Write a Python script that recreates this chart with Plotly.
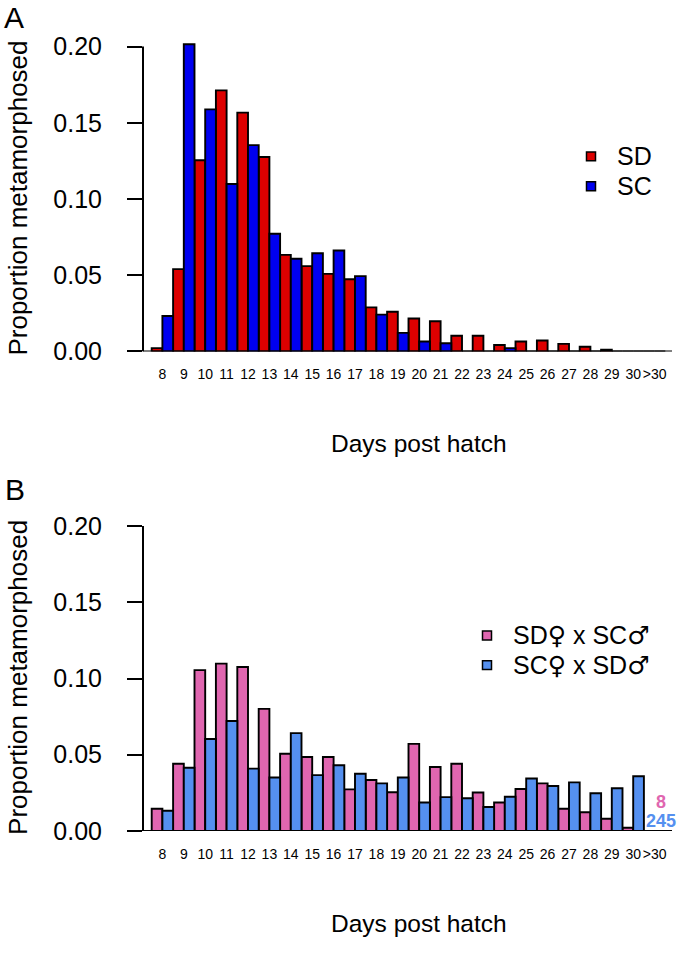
import plotly.graph_objects as go

W, H = 677, 956
FONT = "Liberation Sans, Arial, Helvetica, sans-serif"

days = ["8", "9", "10", "11", "12", "13", "14", "15", "16", "17", "18", "19",
        "20", "21", "22", "23", "24", "25", "26", "27", "28", "29", "30", ">30"]

# Panel A: SD and SC
sd = [0.0022, 0.0540, 0.1254, 0.1713, 0.1567, 0.1276, 0.0634, 0.0560, 0.0509, 0.0474,
      0.0289, 0.0261, 0.0216, 0.0198, 0.0103, 0.0103, 0.0042, 0.0065, 0.0072, 0.0050,
      0.0031, 0.0012, 0.0, 0.0]
sc = [0.0233, 0.2015, 0.1588, 0.1099, 0.1354, 0.0772, 0.0608, 0.0644, 0.0662, 0.0494,
      0.0242, 0.0122, 0.0065, 0.0054, 0.0, 0.0, 0.0022, 0.0, 0.0, 0.0,
      0.0, 0.0, 0.0, 0.0]

# Panel B: reciprocal crosses
sdf_scm = [0.0146, 0.0441, 0.1055, 0.1098, 0.1076, 0.0801, 0.0506, 0.0485, 0.0485, 0.0273,
           0.0334, 0.0254, 0.0571, 0.0420, 0.0441, 0.0252, 0.0187, 0.0275, 0.0312, 0.0146,
           0.0123, 0.0080, 0.0021, None]
scf_sdm = [0.0133, 0.0415, 0.0603, 0.0721, 0.0409, 0.0351, 0.0642, 0.0366, 0.0431, 0.0375,
           0.0312, 0.0351, 0.0187, 0.0222, 0.0215, 0.0157, 0.0224, 0.0344, 0.0295, 0.0319,
           0.0247, 0.0280, 0.0359, None]
over30_counts = ["8", "245"]

yticks = [0.0, 0.05, 0.10, 0.15, 0.20]
ytext = ["0.00", "0.05", "0.10", "0.15", "0.20"]

RED, BLUE = "#DD0000", "#0000F0"
PINK, LBLUE = "#E066B0", "#5590F0"

x_first = [2 * i + 0.5 for i in range(len(days))]
x_second = [2 * i + 1.5 for i in range(len(days))]
x_center = [2 * i + 1.0 for i in range(len(days))]

def px(x):
    return x / W

def py(y):
    return 1 - y / H

line = dict(color="black", width=1.9)
fig = go.Figure()
fig.add_trace(go.Bar(x=x_first, y=sd, width=1, marker=dict(color=RED, line=line),
                     xaxis="x", yaxis="y", name="SD", showlegend=False))
fig.add_trace(go.Bar(x=x_second, y=sc, width=1, marker=dict(color=BLUE, line=line),
                     xaxis="x", yaxis="y", name="SC", showlegend=False))
fig.add_trace(go.Bar(x=x_first, y=sdf_scm, width=1, marker=dict(color=PINK, line=line),
                     xaxis="x2", yaxis="y2", name="SD♀ x SC♂", showlegend=False))
fig.add_trace(go.Bar(x=x_second, y=scf_sdm, width=1, marker=dict(color=LBLUE, line=line),
                     xaxis="x2", yaxis="y2", name="SC♀ x SD♂", showlegend=False))

PLOT_L, PLOT_R = 143, 672
BAR0, BARW = 151.7, 10.7
xr = [(PLOT_L - BAR0) / BARW, (PLOT_R - BAR0) / BARW]
YMAX = 0.21
PXU = 309.4 / 0.2

def ydomain(base_px):
    top_px = base_px - YMAX * PXU
    return [py(base_px), py(top_px)]

A_BASE, B_BASE = 356.7, 843.3

xcommon = dict(range=xr, domain=[px(PLOT_L), px(PLOT_R)], tickmode="array",
               tickvals=x_center, ticktext=days, ticks="", showline=False,
               showgrid=False, zeroline=False, ticklabelstandoff=13, tickangle=0,
               tickfont=dict(size=14, color="black", family=FONT))
ycommon = dict(range=[0, YMAX], tickmode="array", tickvals=yticks, ticktext=ytext,
               ticks="outside", ticklen=15, tickwidth=2, tickcolor="black",
               showline=False, showgrid=False, zeroline=False, ticklabelstandoff=20,
               tickfont=dict(size=25, color="black", family=FONT))

fig.update_layout(
    width=W, height=H, margin=dict(l=0, r=0, t=0, b=0),
    paper_bgcolor="white", plot_bgcolor="white", barmode="overlay",
    font=dict(family=FONT, color="black"),
    xaxis=dict(**xcommon, anchor="y"),
    yaxis=dict(**ycommon, domain=ydomain(A_BASE), anchor="x"),
    xaxis2=dict(**xcommon, anchor="y2"),
    yaxis2=dict(**ycommon, domain=ydomain(B_BASE), anchor="x2"),
)

shapes = []
for xa, ya in (("x", "y"), ("x2", "y2")):
    shapes.append(dict(type="line", xref=xa + " domain", yref=ya, x0=0, x1=0, y0=0, y1=0.2,
                       line=dict(color="black", width=2), layer="above"))
    shapes.append(dict(type="line", xref=xa + " domain", yref=ya, x0=0, x1=1, y0=0, y1=0,
                       line=dict(color="black", width=2), layer="above"))

SYM = "<span style=\"font-family:'DejaVu Sans'\">%s</span>"
FEM, MAL = SYM % "♀", SYM % "♂"

legend_items = [
    (591, 158.7, RED, "SD"), (591, 189, BLUE, "SC"),
    (487, 645, PINK, "SD" + FEM + " x SC" + MAL), (487, 675, LBLUE, "SC" + FEM + " x SD" + MAL),
]
annotations = []
for cx, cy, col, label in legend_items:
    shapes.append(dict(type="rect", xref="paper", yref="paper",
                       x0=px(cx - 4.5), x1=px(cx + 4.5), y0=py(cy + 4.5), y1=py(cy - 4.5),
                       fillcolor=col, line=dict(color="black", width=1.5)))
    annotations.append(dict(x=px(cx + 24), y=py(cy), xref="paper", yref="paper",
                            text=label, showarrow=False, xanchor="left", yanchor="middle",
                            font=dict(size=25, color="black", family=FONT)))

annotations.append(dict(x=px(14), y=py(18), xref="paper", yref="paper", text="A",
                        showarrow=False, xanchor="center", yanchor="middle",
                        font=dict(size=30, color="black", family=FONT)))
annotations.append(dict(x=px(15), y=py(497), xref="paper", yref="paper", text="B",
                        showarrow=False, xanchor="center", yanchor="middle",
                        font=dict(size=30, color="black", family=FONT)))

for ycen in (201.5, 688):
    annotations.append(dict(x=px(18), y=py(ycen), xref="paper", yref="paper",
                            text="Proportion metamorphosed", textangle=-90,
                            showarrow=False, xanchor="center", yanchor="middle",
                            font=dict(size=26, color="black", family=FONT)))
for ycen in (450, 937):
    annotations.append(dict(x=px(419), y=py(ycen), xref="paper", yref="paper",
                            text="Days post hatch", showarrow=False,
                            xanchor="center", yanchor="middle",
                            font=dict(size=24.5, color="black", family=FONT)))

annotations.append(dict(x=px(661), y=py(814), xref="paper", yref="paper",
                        text="<b>%s</b>" % over30_counts[0], showarrow=False,
                        xanchor="center", yanchor="middle",
                        font=dict(size=18, color=PINK, family=FONT)))
annotations.append(dict(x=px(661), y=py(833), xref="paper", yref="paper",
                        text="<b>%s</b>" % over30_counts[1], showarrow=False,
                        xanchor="center", yanchor="middle",
                        font=dict(size=18, color=LBLUE, family=FONT)))

fig.update_layout(shapes=shapes, annotations=annotations)

post = ("document.documentElement.style.margin='0';"
        "document.documentElement.style.padding='0';"
        "document.documentElement.style.overflow='hidden';"
        "document.body.style.margin='0';document.body.style.padding='0';"
        "document.body.style.overflow='hidden';"
        "var d=document.getElementById('{plot_id}');"
        "d.style.position='absolute';d.style.left='0px';d.style.top='0px';")
fig.write_html("out.html", config={"displayModeBar": False}, post_script=post)
